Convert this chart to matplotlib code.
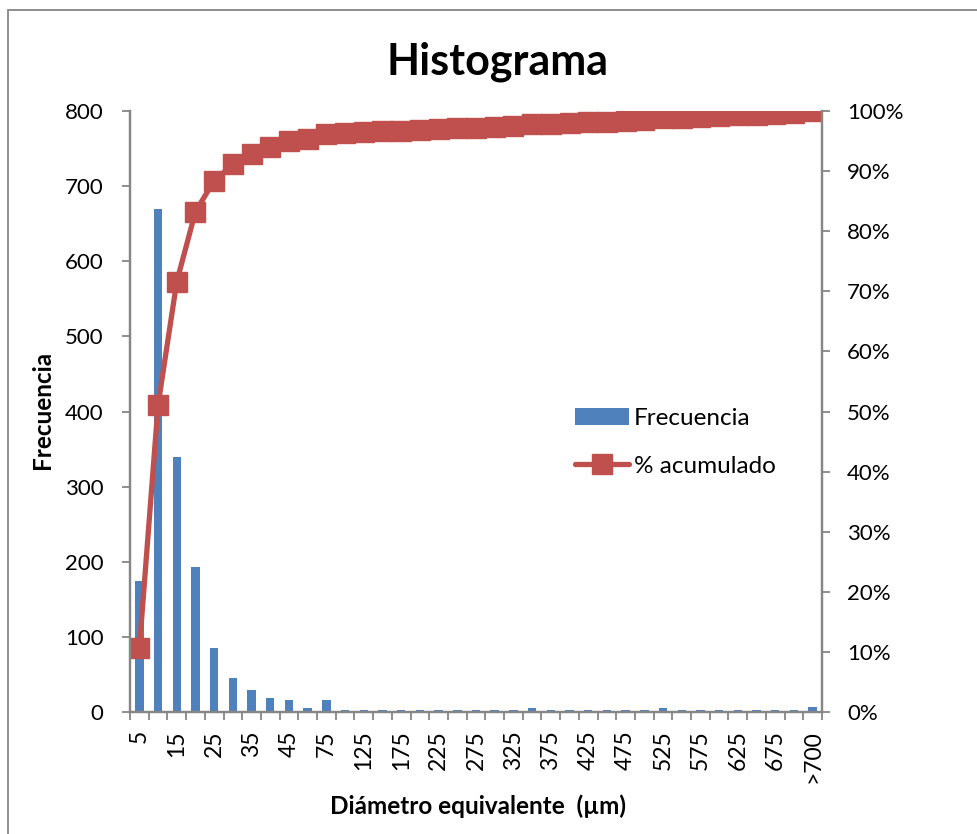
import matplotlib
matplotlib.use('Agg')
import matplotlib.pyplot as plt
from matplotlib.patches import Rectangle
from matplotlib.ticker import PercentFormatter
import numpy as np

plt.rcParams['font.family'] = ['Lato', 'DejaVu Sans']

# class limits (µm) and counts per class
clases = ['5', '10', '15', '20', '25', '30', '35', '40', '45', '50',
          '75', '100', '125', '150', '175', '200', '225', '250', '275', '300',
          '325', '350', '375', '400', '425', '450', '475', '500', '525', '550',
          '575', '600', '625', '650', '675', '700', '>700']
frecuencia = [175, 670, 340, 193, 85, 45, 29, 19, 16, 5,
              16, 2, 2, 2, 2, 2, 2, 2, 2, 2,
              2, 5, 2, 2, 2, 2, 2, 2, 5, 2,
              2, 2, 2, 2, 2, 2, 6]

acumulado = np.cumsum(frecuencia) / np.sum(frecuencia)

AZUL = '#4F81BD'
ROJO = '#C0504D'
GRIS = '#868686'

fig = plt.figure(figsize=(9.77, 8.34), dpi=100)
ax = fig.add_axes([130 / 977, 1 - 712 / 834, 692 / 977, 601 / 834])
ax2 = ax.twinx()

x = np.arange(len(clases))
barras = ax.bar(x, frecuencia, width=0.45, color=AZUL, zorder=2, label='Frecuencia')
linea, = ax2.plot(x, acumulado, color=ROJO, lw=3.8, marker='s', ms=14.5,
                  mec=ROJO, mfc=ROJO, solid_capstyle='round', label='% acumulado')

ax.set_xlim(-0.5, len(clases) - 0.5)
ax.set_ylim(0, 800)
ax.set_yticks(range(0, 801, 100))
ax2.set_ylim(0, 1)
ax2.set_yticks(np.arange(0, 1.01, 0.1))
ax2.yaxis.set_major_formatter(PercentFormatter(xmax=1, decimals=0))

# labels on every other class, tick marks on class boundaries
ax.set_xticks(x[::2])
ax.set_xticklabels(clases[::2], rotation=90, va='top', ha='center')
ax.set_xticks(np.arange(-0.5, len(clases), 1), minor=True)
ax.tick_params(axis='x', which='major', length=0, pad=13, labelsize=16.5)
ax.tick_params(axis='x', which='minor', length=6, width=1.3, color=GRIS, direction='out')
ax.tick_params(axis='y', length=6, width=1.3, color=GRIS, pad=13, labelsize=16)
ax2.tick_params(axis='y', length=6, width=1.3, color=GRIS, pad=12, labelsize=16)

for a in (ax, ax2):
    a.spines['top'].set_visible(False)
    for s in ('left', 'right', 'bottom'):
        a.spines[s].set_color(GRIS)
        a.spines[s].set_linewidth(1.6)
ax2.set_zorder(ax.get_zorder() + 1)
ax.patch.set_visible(False)

fig.text(498 / 977, 1 - 62 / 834, 'Histograma', fontsize=31, fontweight='bold',
         ha='center', va='center')
fig.text(42 / 977, 1 - 410 / 834, 'Frecuencia', fontsize=17.5, fontweight='bold',
         rotation=90, ha='center', va='center')
fig.text(478 / 977, 1 - 806 / 834, 'Diámetro equivalente  (µm)', fontsize=17.5,
         fontweight='bold', ha='center', va='center')

ax2.legend([barras, linea], ['Frecuencia', '% acumulado'], loc='center left',
           bbox_to_anchor=(0.612, 0.449), frameon=False, fontsize=17.5,
           handlelength=2.2, handletextpad=0.2, labelspacing=1.1, numpoints=1)

fig.add_artist(Rectangle((8 / 977, -0.1), 1.2, 1.1 - 10 / 834, transform=fig.transFigure,
                         fill=False, edgecolor=GRIS, lw=1.3))

fig.savefig('out.png', dpi=100)
